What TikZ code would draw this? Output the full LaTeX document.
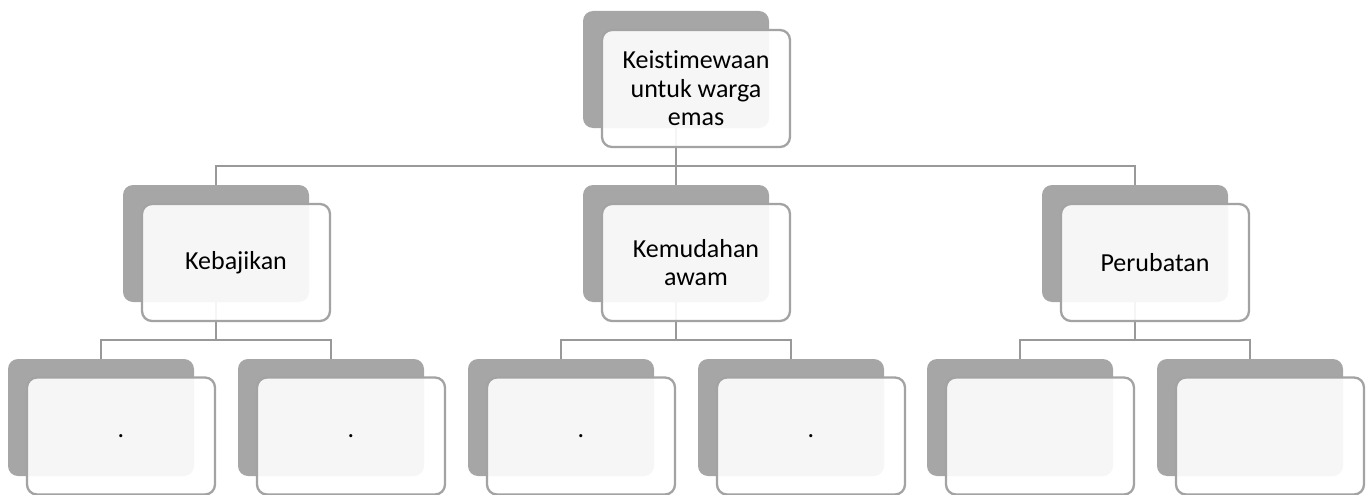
\documentclass[tikz,border=0pt]{standalone}
\usepackage{fontspec}
\setmainfont{Carlito}[Ligatures=NoCommon]
\definecolor{darkbox}{HTML}{A6A6A6}
\definecolor{frameline}{HTML}{A3A3A3}
\definecolor{connline}{HTML}{999999}
\tikzset{
  backbox/.style={rectangle, rounded corners=10pt, fill=darkbox, draw=none,
    minimum width=186pt, minimum height=117pt, inner sep=0pt, outer sep=0pt},
  frontbox/.style={rectangle, rounded corners=10pt, fill=white, fill opacity=0.9,
    text opacity=1, draw=frameline, line width=2.3pt,
    minimum width=188pt, minimum height=117pt, inner sep=0pt, outer sep=0pt,
    align=center, font=\fontsize{26}{28.5}\selectfont},
  conn/.style={draw=connline, line width=2.6pt}
}
\begin{document}
\begin{tikzpicture}[x=1pt,y=-1pt]
\useasboundingbox (0,0) rectangle (1368,495);
% back boxes (centre = top-left + (93,58.5))
\node[backbox] (b0) at (676,69.5) {};
\node[backbox] (b1) at (216,243.5) {};
\node[backbox] (b2) at (676,243.5) {};
\node[backbox] (b3) at (1135,243.5) {};
\node[backbox] (b4) at (101,417.5) {};
\node[backbox] (b5) at (331,417.5) {};
\node[backbox] (b6) at (561,417.5) {};
\node[backbox] (b7) at (791,417.5) {};
\node[backbox] (b8) at (1020,417.5) {};
\node[backbox] (b9) at (1250,417.5) {};
% junctions
\coordinate (j0) at (676,166);
\coordinate (j1) at (216,340);
\coordinate (j2) at (676,340);
\coordinate (j3) at (1135,340);
% connectors
\draw[conn] (b0.south) -- (j0);
\draw[conn] (j0) -| (b1.north);
\draw[conn] (j0) -- (b2.north);
\draw[conn] (j0) -| (b3.north);
\draw[conn] (b1.south) -- (j1);
\draw[conn] (j1) -| (b4.north);
\draw[conn] (j1) -| (b5.north);
\draw[conn] (b2.south) -- (j2);
\draw[conn] (j2) -| (b6.north);
\draw[conn] (j2) -| (b7.north);
\draw[conn] (b3.south) -- (j3);
\draw[conn] (j3) -| (b8.north);
\draw[conn] (j3) -| (b9.north);
% front boxes
\node[frontbox] (f0) at (696,88.5) {Keist\kern0pt imewaan\\untuk warga\\emas};
\node[frontbox] (f1) at (236,262.5) {Kebajikan};
\node[frontbox] (f2) at (696,262.5) {Kemudahan\\awam};
\node[frontbox] (f3) at (1155,262.5) {Perubatan};
\node[frontbox] (f4) at (121,436) {.};
\node[frontbox] (f5) at (351,436) {.};
\node[frontbox] (f6) at (581,436) {.};
\node[frontbox] (f7) at (811,436) {.};
\node[frontbox] (f8) at (1040,436) {};
\node[frontbox] (f9) at (1270,436) {};
\end{tikzpicture}
\end{document}
